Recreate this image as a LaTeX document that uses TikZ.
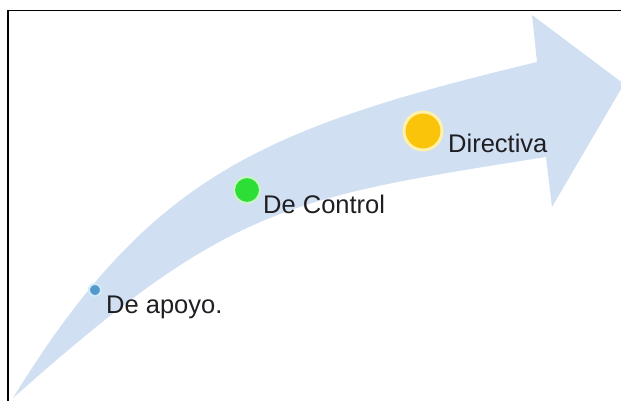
\documentclass[tikz,border=0pt]{standalone}
\usepackage{fontspec}
\setmainfont{Liberation Sans}
\definecolor{arrowblue}{RGB}{208,224,242}
\definecolor{dotblue}{RGB}{84,152,204}
\definecolor{ringblue}{RGB}{205,235,250}
\definecolor{dotgreen}{RGB}{45,222,55}
\definecolor{ringgreen}{RGB}{200,245,200}
\definecolor{dotyellow}{RGB}{250,196,10}
\definecolor{ringyellow}{RGB}{255,240,170}
\definecolor{labelgray}{RGB}{30,30,35}
\tikzset{
  dot/.style={circle, inner sep=0pt, line width=#1},
  lbl/.style={anchor=base west, inner sep=0pt, text=labelgray, font=\fontsize{25.5}{30}\selectfont},
  frame/.style={line width=1.8pt, black}
}
\begin{document}
\begin{tikzpicture}[x=1pt,y=-1pt]
\useasboundingbox (0,0) rectangle (621,401);
% curved arrow
\fill[arrowblue] (13,398) .. controls (150,175) and (263,128) .. (537,62)
  -- (532,15) -- (624,84) -- (552,207) -- (546,157)
  .. controls (286,198) and (229,206) .. (13,398) -- cycle;
% frame
\draw[frame] (8,401) -- (8,10.5) -- (621,10.5);
% dots
\node[dot=2pt, fill=dotblue, draw=ringblue, minimum size=12pt] (d1) at (95,290) {};
\node[dot=2pt, fill=dotgreen, draw=ringgreen, minimum size=26pt] (d2) at (247,190) {};
\node[dot=3pt, fill=dotyellow, draw=ringyellow, minimum size=38pt] (d3) at (423,131) {};
% labels
\node[lbl] (t1) at (106,313) {De apoyo.};
\node[lbl] (t2) at (263,213) {De Control};
\node[lbl] (t3) at (448,153) {Directiva};
\end{tikzpicture}
\end{document}
